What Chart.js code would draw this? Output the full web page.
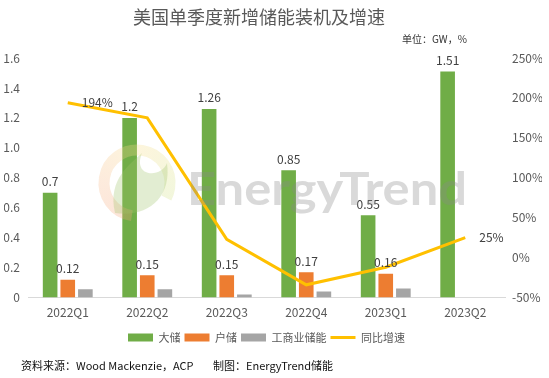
<!DOCTYPE html>
<html>
<head>
<meta charset="utf-8">
<script src="https://cdn.jsdelivr.net/npm/chart.js@4/dist/chart.umd.min.js"></script>
<style>
html,body{margin:0;padding:0;background:#fff;}
#wrap{width:549px;height:378px;position:relative;}
</style>
</head>
<body>
<div id="wrap"><canvas id="c" width="549" height="378"></canvas></div>
<script>
const categories = ['2022Q1','2022Q2','2022Q3','2022Q4','2023Q1','2023Q2'];
const largeStorage = [0.7, 1.2, 1.26, 0.85, 0.55, 1.51];
const homeStorage = [0.12, 0.15, 0.15, 0.17, 0.16, null];
const ciStorage = [0.055, 0.055, 0.02, 0.04, 0.06, null];
const growthRate = [194, 175, 23, -34, -12, 25];
const growthLabels = ['194%', null, null, null, null, '25%'];
const leftTicks = [0, 1.6, 0.2];
const rightTicks = [-50, 250, 50];

const FONT = '"Noto Sans CJK SC", "Liberation Sans", sans-serif';
const CJK = '"Noto Sans CJK SC", "Liberation Sans", sans-serif';

const decor = {
  id: 'decor',
  afterDatasetsDraw(chart) {
    const ctx = chart.ctx;
    ctx.save();
    ctx.font = '12px ' + FONT;
    ctx.fillStyle = '#404040';
    ctx.textAlign = 'center';
    ctx.textBaseline = 'bottom';
    [0, 1].forEach(di => {
      const meta = chart.getDatasetMeta(di);
      const data = chart.data.datasets[di].data;
      meta.data.forEach((el, i) => {
        if (data[i] == null) return;
        ctx.fillText(String(data[i]), el.x, el.y - 5);
      });
    });
    const lm = chart.getDatasetMeta(3);
    ctx.textAlign = 'left';
    ctx.textBaseline = 'middle';
    lm.data.forEach((el, i) => {
      if (!growthLabels[i]) return;
      ctx.fillText(growthLabels[i], el.x + 14, el.y);
    });
    // watermark logo
    const cx = 137, cy = 183, r = 33;
    ctx.globalAlpha = 0.3;
    let g;
    if (ctx.createConicGradient) {
      g = ctx.createConicGradient(Math.PI * 0.5, cx, cy);
      g.addColorStop(0, '#f4a07a');
      g.addColorStop(0.25, '#f6b98a');
      g.addColorStop(0.5, '#f7dc8a');
      g.addColorStop(0.75, '#d8e28a');
      g.addColorStop(1, '#c5dd8a');
    } else { g = '#f0c090'; }
    ctx.strokeStyle = g;
    ctx.lineWidth = 11;
    ctx.beginPath();
    ctx.arc(cx, cy, r, Math.PI * 0.55, Math.PI * 2.15);
    ctx.stroke();
    ctx.fillStyle = '#9fc56a';
    ctx.beginPath();
    ctx.moveTo(cx - 22, cy + 30);
    ctx.bezierCurveTo(cx - 30, cy - 5, cx - 5, cy - 20, cx + 5, cy - 30);
    ctx.bezierCurveTo(cx - 5, cy - 5, cx + 25, cy - 5, cx + 30, cy - 20);
    ctx.bezierCurveTo(cx + 35, cy + 15, cx + 10, cy + 35, cx - 22, cy + 30);
    ctx.fill();
    ctx.globalAlpha = 0.32;
    ctx.fillStyle = '#8a8a8a';
    ctx.font = 'bold 46px Lato, "Open Sans", sans-serif';
    ctx.textAlign = 'left';
    ctx.textBaseline = 'alphabetic';
    const txt = 'EnergyTrend';
    const w = ctx.measureText(txt).width;
    ctx.save();
    ctx.translate(187, 205);
    ctx.scale(280 / w, 1);
    ctx.fillText(txt, 0, 0);
    ctx.restore();
    ctx.restore();
  },
  afterDraw(chart) {
    const ctx = chart.ctx;
    ctx.save();
    ctx.fillStyle = '#595959';
    ctx.font = '18px ' + CJK;
    ctx.textAlign = 'center';
    ctx.textBaseline = 'middle';
    ctx.fillText('美国单季度新增储能装机及增速', 259, 17);
    ctx.fillStyle = '#333333';
    ctx.font = '10px ' + CJK;
    ctx.textAlign = 'left';
    ctx.fillText('单位：GW，%', 402, 39);
    ctx.fillStyle = '#111111';
    ctx.font = '11px ' + CJK;
    ctx.fillText('资料来源：Wood Mackenzie，ACP', 21, 366);
    ctx.fillText('制图：EnergyTrend储能', 213, 366);
    ctx.restore();
  }
};

new Chart(document.getElementById('c'), {
  type: 'bar',
  data: {
    labels: categories,
    datasets: [
      { label: '大储', data: largeStorage, backgroundColor: '#70AD47', yAxisID: 'y', order: 2, categoryPercentage: 0.665, barPercentage: 0.83 },
      { label: '户储', data: homeStorage, backgroundColor: '#ED7D31', yAxisID: 'y', order: 2, categoryPercentage: 0.665, barPercentage: 0.83 },
      { label: '工商业储能', data: ciStorage, backgroundColor: '#A5A5A5', yAxisID: 'y', order: 2, categoryPercentage: 0.665, barPercentage: 0.83 },
      { label: '同比增速', type: 'line', data: growthRate, borderColor: '#FFC000', backgroundColor: '#FFC000', borderWidth: 3, pointRadius: 0, tension: 0, yAxisID: 'y1', order: 1 }
    ]
  },
  options: {
    responsive: false,
    animation: false,
    devicePixelRatio: 1,
    layout: { padding: { top: 58, left: 4, right: 7, bottom: 25 } },
    plugins: {
      title: { display: false },
      tooltip: { enabled: false },
      legend: {
        position: 'bottom',
        fullSize: false,
        labels: {
          font: { size: 11, family: CJK },
          color: '#595959',
          boxWidth: 25,
          boxHeight: 8,
          padding: 4,
          usePointStyle: true,
          pointStyleWidth: 25,
          generateLabels(chart) {
            return chart.data.datasets.map((ds, i) => ({
              text: ds.label,
              fillStyle: ds.type === 'line' ? ds.borderColor : ds.backgroundColor,
              strokeStyle: ds.type === 'line' ? ds.borderColor : ds.backgroundColor,
              lineWidth: ds.type === 'line' ? 3 : 0,
              pointStyle: ds.type === 'line' ? 'line' : 'rect',
              fontColor: '#595959',
              datasetIndex: i,
              hidden: false
            }));
          }
        }
      }
    },
    scales: {
      x: {
        grid: { display: false, drawTicks: false },
        border: { display: true, color: '#D9D9D9', width: 1 },
        ticks: { color: '#595959', font: { size: 12, family: FONT }, padding: 8 }
      },
      y: {
        position: 'left',
        min: leftTicks[0], max: leftTicks[1],
        grid: { display: false, drawTicks: false },
        border: { display: false },
        ticks: { stepSize: leftTicks[2], color: '#595959', font: { size: 12, family: FONT }, padding: 8 },
        afterFit: s => { s.width = 24; }
      },
      y1: {
        position: 'right',
        min: rightTicks[0], max: rightTicks[1],
        grid: { display: false, drawTicks: false },
        border: { display: false },
        ticks: { stepSize: rightTicks[2], color: '#595959', font: { size: 12, family: FONT }, padding: 7, callback: v => v + '%' },
        afterFit: s => { s.width = 37; }
      }
    }
  },
  plugins: [decor]
});
</script>
</body>
</html>
